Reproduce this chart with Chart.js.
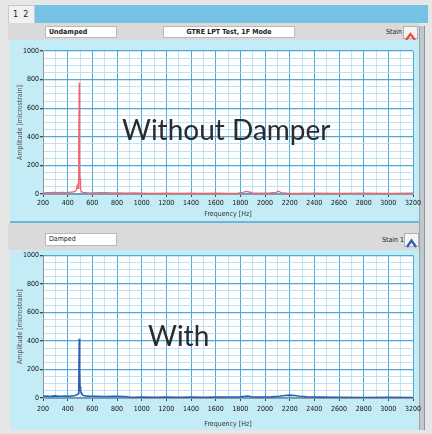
<!DOCTYPE html>
<html>
<head>
<meta charset="utf-8">
<script src="https://cdn.jsdelivr.net/npm/chart.js@4/dist/chart.umd.min.js"></script>
<style>
  html, body { margin: 0; padding: 0; }
  body { width: 432px; height: 434px; background: #e6e6e6; position: relative; overflow: hidden;
         font-family: "DejaVu Sans Condensed", "Liberation Sans", sans-serif; }
  .abs { position: absolute; }
  .tab { left: 8px; top: 5px; width: 27px; height: 18px; background: #f1f1f1; border: 1px solid #c9c9c9;
         border-bottom: none; box-sizing: border-box; font-size: 9px; line-height: 17px; padding-left: 4px; color: #222; }
  .tabbar { left: 35px; top: 5px; width: 393px; height: 18px; background: #76c2e4; }
  .hdr { left: 8px; width: 412px; background: #dadada; }
  .box { background: #fff; border: 1px solid #b9b9b9; box-sizing: border-box; font-size: 7px; font-weight: bold;
         line-height: 10px; color: #222; white-space: nowrap; }
  .frame { left: 10px; width: 409px; background: #c4ecf6; border-bottom: 2px solid #6db7da; box-sizing: border-box; }
  .scroll { left: 419px; top: 26px; width: 6px; height: 404px; background: #c2c7cc; border-left: 1px solid #9aa3ab; border-right: 1px solid #8c959e; box-sizing: border-box; }
  .btn { width: 15px; height: 13px; background: #f4f4f4; border: 1px solid #a9b3bd; box-sizing: border-box; }
  .lbl { font-size: 7px; color: #222; white-space: nowrap; }
  .big { font-family: "Lato", "Open Sans", sans-serif; font-size: 28px; color: #2b2b2b; white-space: nowrap; line-height: 1; }
  canvas.c { position: absolute; left: 0; }
</style>
</head>
<body>
<!-- tab strip -->
<div class="abs tab">1&nbsp;&nbsp;2</div>
<div class="abs tabbar"></div>

<!-- upper panel header -->
<div class="abs hdr" style="top:23px;height:17px;"></div>
<div class="abs box" style="left:45px;top:26px;width:72px;height:12px;padding-left:3px;">Undamped</div>
<div class="abs box" style="left:163px;top:26px;width:132px;height:12px;text-align:center;">GTRE LPT Test, 1F Mode</div>
<div class="abs lbl" style="left:386px;top:28px;">Stain</div>
<div class="abs btn" style="left:403px;top:26px;">
  <svg width="13" height="11"><polyline points="2,9 6.5,3 11,9" fill="none" stroke="#e8473f" stroke-width="2.2"/></svg>
</div>

<!-- upper plot frame -->
<div class="abs frame" style="top:40px;height:183px;"></div>

<!-- lower panel header -->
<div class="abs hdr" style="top:223px;height:27px;"></div>
<div class="abs box" style="left:45px;top:233px;width:72px;height:13px;padding-left:3px;font-weight:normal;">Damped</div>
<div class="abs lbl" style="left:382px;top:236px;">Stain 1</div>
<div class="abs btn" style="left:404px;top:233px;height:14px;">
  <svg width="13" height="12"><polyline points="2,10 6.5,3.5 11,10" fill="none" stroke="#2f62b5" stroke-width="2.4"/></svg>
</div>

<!-- lower plot frame -->
<div class="abs frame" style="top:250px;height:180px;border-bottom:none;"></div>
<div class="abs scroll"></div>

<canvas class="c" id="undamped" style="top:40px;" width="432" height="182"></canvas>
<canvas class="c" id="damped" style="top:250px;" width="432" height="180"></canvas>

<div class="abs big" style="left:122px;top:115px;">Without Damper</div>
<div class="abs big" style="left:148px;top:321px;">With</div>

<script>
// Frequency axis ticks and amplitude axis ticks
const freqTicks = [200, 400, 600, 800, 1000, 1200, 1400, 1600, 1800, 2000, 2200, 2400, 2600, 2800, 3000, 3200];
const ampTicks = [0, 200, 400, 600, 800, 1000];

// Strain spectrum, undamped blade (Hz, microstrain)
const freqUndamped = [200, 230, 260, 290, 320, 350, 380, 410, 440, 460, 470, 478, 484, 488, 491, 494, 497, 500, 503, 506, 510, 516, 524, 540, 560, 600, 650, 700, 760, 820, 880, 940, 1000, 1100, 1200, 1300, 1400, 1500, 1600, 1700, 1780, 1820, 1850, 1870, 1900, 1960, 2040, 2090, 2110, 2130, 2180, 2260, 2400, 2600, 2800, 3000, 3200];
const ampUndamped = [8, 10, 9, 12, 10, 11, 9, 12, 14, 18, 25, 60, 40, 120, 300, 780, 200, 110, 60, 35, 20, 15, 12, 10, 9, 8, 10, 9, 8, 7, 6, 7, 6, 5, 6, 5, 6, 5, 6, 5, 6, 12, 18, 14, 8, 6, 7, 12, 20, 10, 6, 5, 6, 5, 6, 5, 6];

// Strain spectrum, damped blade (Hz, microstrain)
const freqDamped = [200, 230, 260, 290, 320, 350, 380, 410, 440, 460, 475, 485, 490, 494, 497, 500, 503, 507, 512, 520, 530, 545, 570, 620, 700, 780, 860, 900, 940, 1000, 1100, 1200, 1300, 1400, 1500, 1600, 1700, 1800, 1860, 1880, 1900, 1960, 2050, 2120, 2160, 2200, 2240, 2280, 2340, 2450, 2600, 2800, 3000, 3200];
const ampDamped = [12, 14, 11, 15, 13, 12, 14, 12, 15, 18, 22, 30, 60, 415, 200, 80, 55, 45, 35, 22, 18, 15, 13, 12, 11, 12, 10, 7, 5, 6, 5, 6, 5, 6, 5, 6, 7, 8, 14, 10, 7, 6, 8, 12, 18, 20, 17, 12, 8, 6, 5, 4, 5, 4];

const MAJOR = 'rgba(70,165,215,0.95)';
const MINOR = 'rgba(170,218,238,0.75)';
const TICKFONT = { family: '"DejaVu Sans Condensed", "Liberation Sans", sans-serif', size: 7 };
const TITLEFONT = { family: '"DejaVu Sans Condensed", "Liberation Sans", sans-serif', size: 7 };

// white plotting area inside the cyan frame
const plotBg = {
  id: 'plotBg',
  beforeDraw(chart) {
    const a = chart.chartArea, ctx = chart.ctx;
    ctx.save();
    ctx.fillStyle = '#ffffff';
    ctx.fillRect(a.left, a.top, a.right - a.left, a.bottom - a.top);
    ctx.restore();
  }
};

function makeChart(id, freqs, amps, color, lw, cfg) {
  const pts = freqs.map((f, i) => ({ x: f, y: amps[i] }));
  return new Chart(document.getElementById(id), {
    type: 'scatter',
    data: { datasets: [{ data: pts, showLine: true, borderColor: color, borderWidth: lw,
                         pointRadius: 0, tension: 0 }] },
    plugins: [plotBg],
    options: {
      responsive: false, animation: false,
      layout: { padding: { left: 15, right: 19, top: cfg.top, bottom: 0 } },
      plugins: { legend: { display: false }, tooltip: { enabled: false } },
      scales: {
        x: {
          type: 'linear', min: freqTicks[0], max: freqTicks[freqTicks.length - 1],
          afterFit: s => { s.height = cfg.xh; },
          ticks: { stepSize: 100, autoSkip: false, maxRotation: 0, color: '#111', font: TICKFONT,
                   padding: cfg.xpad,
                   callback: v => freqTicks.includes(v) ? String(v) : '' },
          grid: { color: c => (c.tick && freqTicks.includes(c.tick.value)) ? MAJOR : MINOR,
                  tickColor: c => (c.tick && freqTicks.includes(c.tick.value)) ? '#444' : 'rgba(0,0,0,0)',
                  tickLength: 3 },
          border: { color: '#8a9aa3' },
          title: { display: true, text: 'Frequency [Hz]', color: '#333', font: TITLEFONT,
                   padding: { top: 0, bottom: cfg.tpad } }
        },
        y: {
          min: ampTicks[0], max: ampTicks[ampTicks.length - 1],
          afterFit: s => { s.width = 28; },
          ticks: { stepSize: 50, autoSkip: false, color: '#111', font: TICKFONT, padding: 1,
                   callback: v => ampTicks.includes(v) ? String(v) : '' },
          grid: { color: c => (c.tick && ampTicks.includes(c.tick.value)) ? MAJOR : MINOR,
                  lineWidth: c => (c.tick && ampTicks.includes(c.tick.value)) ? 1.3 : 1,
                  tickColor: c => (c.tick && ampTicks.includes(c.tick.value)) ? '#444' : 'rgba(0,0,0,0)',
                  tickLength: 3 },
          border: { color: '#8a9aa3' },
          title: { display: true, text: 'Amplitude [microstrain]', color: '#555', font: TITLEFONT,
                   padding: { top: 1, bottom: 0 } }
        }
      }
    }
  });
}

makeChart('undamped', freqUndamped, ampUndamped, '#ef6670', 1.3, { top: 11, xh: 28, xpad: 2, tpad: 4 });
makeChart('damped', freqDamped, ampDamped, '#2f5fae', 1.6, { top: 3, xh: 32, xpad: 4, tpad: 2 });
</script>
</body>
</html>
